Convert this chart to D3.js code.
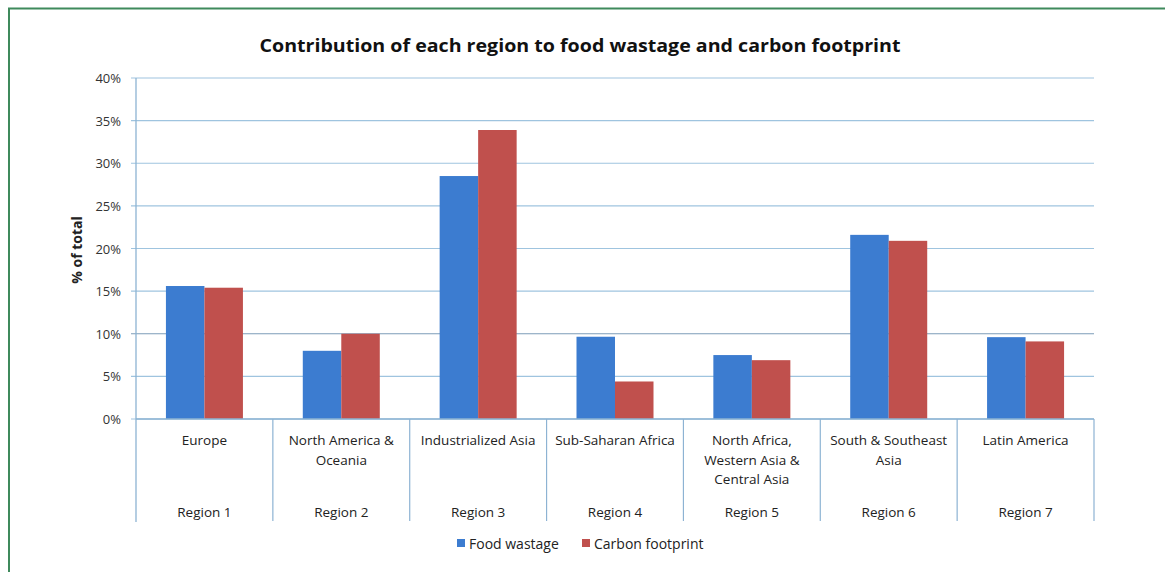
<!DOCTYPE html>
<html><head><meta charset="utf-8">
<script src="https://cdn.jsdelivr.net/npm/d3@7"></script>
<style>body{margin:0;background:#fff;}svg{display:block;font-family:"Open Sans","Liberation Sans",sans-serif;}</style>
</head><body><svg id="c" width="1165" height="572"></svg>
<script>
const regions = ["Europe","North America & Oceania","Industrialized Asia","Sub-Saharan Africa","North Africa, Western Asia & Central Asia","South & Southeast Asia","Latin America"];
const regionLines = [["Europe"],["North America &","Oceania"],["Industrialized Asia"],["Sub-Saharan Africa"],["North Africa,","Western Asia &","Central Asia"],["South & Southeast","Asia"],["Latin America"]];
const regionNums = ["Region 1","Region 2","Region 3","Region 4","Region 5","Region 6","Region 7"];
const seriesNames = ["Food wastage","Carbon footprint"];
const foodWastage = [15.6, 8.0, 28.5, 9.65, 7.5, 21.6, 9.6];
const carbonFootprint = [15.4, 10.0, 33.9, 4.4, 6.9, 20.9, 9.1];
const yTicks = [0,5,10,15,20,25,30,35,40];
const colors = ["#3c7cd0","#c0504d"];

const svg = d3.select("#c");
const L = 136, R = 1094, T = 78, B = 419;

// frame
svg.append("path").attr("d","M9,572 V8.5 H1165").attr("fill","none").attr("stroke","#3f8a5c").attr("stroke-width",2);

const x = d3.scaleBand().domain(regions).range([L,R]);
const xs = d3.scaleBand().domain(seriesNames).range([0,77]);
const y = d3.scaleLinear().domain([0,40]).range([B,T]);

// gridlines
svg.append("g").selectAll("line").data(yTicks).join("line")
  .attr("x1",L-5).attr("x2",R).attr("y1",d=>y(d)).attr("y2",d=>y(d))
  .attr("stroke",d=>d===10?"#7d9cb8":"#9fc4df").attr("stroke-width",1.2);

// y axis labels
const yAxis = d3.axisLeft(y).tickValues(yTicks).tickFormat(d=>d+"%").tickSize(0).tickPadding(15);
const ga = svg.append("g").attr("transform",`translate(${L},0)`).call(yAxis);
ga.select(".domain").remove();
ga.selectAll("text").attr("font-size",13).attr("fill","#333").attr("font-family","Open Sans, sans-serif").attr("dy","0.35em");

// bars
const data = regions.map((r,i)=>({r, vals:[foodWastage[i],carbonFootprint[i]]}));
const gb = svg.append("g");
data.forEach(d=>{
  const x0 = x(d.r) + (x.bandwidth()-77)/2;
  gb.selectAll(null).data(d.vals.map((v,k)=>({v,k}))).join("rect")
    .attr("x",e=>x0+xs(seriesNames[e.k])).attr("width",xs.bandwidth())
    .attr("y",e=>y(e.v)).attr("height",e=>B-y(e.v))
    .attr("fill",e=>colors[e.k]);
});

// axes lines
svg.append("line").attr("x1",L).attr("x2",L).attr("y1",T).attr("y2",522).attr("stroke","#8db3d3").attr("stroke-width",1.3);
svg.append("line").attr("x1",L).attr("x2",R).attr("y1",B).attr("y2",B).attr("stroke","#8db3d3").attr("stroke-width",1.3);
svg.append("g").selectAll("line").data(regions.slice(1).concat(["__end"])).join("line")
  .attr("x1",(d,i)=>L+(i+1)*x.step()).attr("x2",(d,i)=>L+(i+1)*x.step())
  .attr("y1",B).attr("y2",521).attr("stroke","#8db3d3").attr("stroke-width",1.2);

// category labels
const gl = svg.append("g").attr("font-size",13.5).attr("fill","#222").attr("text-anchor","middle");
regions.forEach((r,i)=>{
  const cx = x(r)+x.bandwidth()/2;
  regionLines[i].forEach((ln,j)=>{
    gl.append("text").attr("x",cx).attr("y",445+j*19.5).text(ln);
  });
  gl.append("text").attr("x",cx).attr("y",517).text(regionNums[i]);
});

// y title
svg.append("text").attr("transform","translate(82,250) rotate(-90)").attr("text-anchor","middle")
  .attr("font-size",14).attr("font-weight","bold").attr("fill","#222").text("% of total");

// title
svg.append("text").attr("x",580).attr("y",52).attr("text-anchor","middle")
  .attr("font-size",17.5).attr("font-weight","bold").attr("fill","#111")
  .attr("textLength",641).attr("lengthAdjust","spacingAndGlyphs")
  .text("Contribution of each region to food wastage and carbon footprint");

// legend
const lg = svg.append("g").attr("font-size",14).attr("fill","#222");
const lx = [457, 582];
seriesNames.forEach((s,k)=>{
  lg.append("rect").attr("x",lx[k]).attr("y",539).attr("width",8).attr("height",8).attr("fill",colors[k]);
  lg.append("text").attr("x",lx[k]+12).attr("y",548.5).text(s);
});
</script></body></html>
